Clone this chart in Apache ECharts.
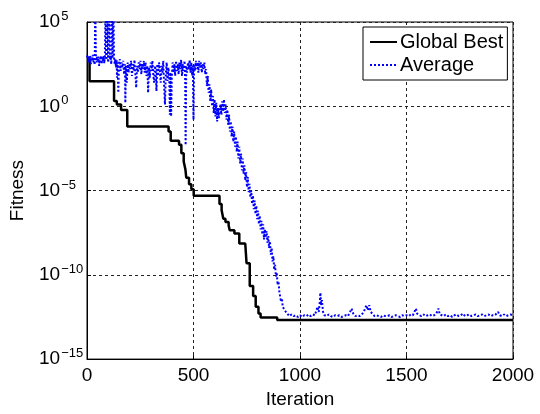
<!DOCTYPE html>
<html>
<head>
<meta charset="utf-8">
<script src="https://cdn.jsdelivr.net/npm/echarts@6/dist/echarts.min.js"></script>
<style>
  html, body { margin: 0; padding: 0; background: #fff; }
  #main { width: 540px; height: 414px; }
</style>
</head>
<body>
<div id="main"></div>
<script>
// fitness is stored as log10 exponent
var xTicks = [0, 500, 1000, 1500, 2000];
var yTicks = [-15, -10, -5, 0, 5];
var seriesNames = ['Global Best', 'Average'];

// [iteration, log10(fitness)]
var globalBest = [
  [0, 2.76], [12, 1.49], [127, 0.32], [140, 0.1], [160, -0.22], [189, -1.2],
  [383, -1.5], [393, -2.04], [432, -2.29], [443, -2.78], [454, -3.27], [462, -3.75],
  [466, -4.24], [479, -4.63], [490, -4.92], [501, -5.31], [622, -5.8], [632, -6.17],
  [640, -6.68], [650, -6.87], [665, -7.07], [670, -7.36], [692, -7.55], [715, -8.14],
  [743, -8.24], [749, -9.31], [764, -10.67], [780, -11.26], [792, -11.9], [805, -12.3],
  [815, -12.53], [893, -12.68], [2000, -12.68]
];

var average = [
  [0, 2.9], [3, 3.05], [6, 2.6], [9, 2.95], [12, 2.75], [15, 3.0], [18, 2.5], [21, 2.9],
  [24, 2.7], [27, 3.05], [30, 2.6], [33, 2.85], [36, 2.45], [39, 6], [42, 2.9], [45, 2.6],
  [48, 3.0], [51, 2.7], [54, 2.95], [57, 2.4], [60, 2.85], [63, 2.65], [66, 3.0], [69, 2.5],
  [72, 2.9], [75, 2.7], [78, 3.0], [81, 2.55], [84, 2.9], [87, 6], [90, 2.75], [93, 2.95],
  [96, 6], [99, 2.6], [102, 2.9], [105, 6], [108, 2.8], [111, 3.0], [114, 2.5], [117, 6],
  [120, 2.85], [124, 6], [127, 2.9], [130, 2.5], [133, 2.8], [136, 2.3], [139, 2.75],
  [141, 1.7], [144, 2.6], [147, 0.8], [150, 2.5],
  [154, 2.8], [158, 2.1], [162, 2.6], [166, 2.3], [170, 2.7], [174, 1.9], [178, 2.5],
  [180, 0.2], [183, 2.4], [187, 1.4], [191, 2.6], [195, 2.0], [199, 2.5], [203, 2.2],
  [207, 2.7], [211, 1.8], [215, 2.5], [219, 2.1], [223, 2.75], [227, 1.9], [231, 1.1],
  [235, 2.4], [239, 2.0], [243, 2.6], [247, 2.2], [251, 2.7], [255, 1.9], [259, 2.5],
  [263, 2.2], [267, 2.7], [271, 2.0], [275, 2.6], [279, 1.8], [283, 2.4], [287, 0.8],
  [291, 2.3], [295, 1.7], [299, 2.6], [303, 2.1], [307, 2.7], [311, 1.9], [315, 1.4],
  [319, 2.4], [323, 2.0], [326, 0.9], [330, 2.5], [334, 1.8], [338, 2.6], [342, 2.1],
  [346, 1.4], [350, 2.4], [354, 2.0], [358, 2.7], [362, 1.2], [366, 0.1], [370, 1.9],
  [374, 2.6], [378, 1.5], [382, 2.3], [386, 1.7], [389, -0.5], [392, 2.0], [395, -0.6],
  [398, 1.7], [402, 2.6], [406, 2.0], [410, 2.5], [414, 1.8], [418, 2.7], [422, 2.1],
  [426, 2.5], [430, 1.9], [434, 2.6], [438, 2.2], [442, 2.75], [446, 1.8], [450, 2.5],
  [454, 2.1], [458, 2.7], [461, 1.5], [463, -2.3], [466, 2.4], [470, 2.0], [474, 2.6],
  [478, 2.2], [482, 2.75], [486, 2.0], [490, 2.6], [494, 1.8], [497, 2.4], [500, -0.8],
  [503, 2.5], [507, 2.1], [511, 2.7], [515, 2.2], [519, 2.6], [523, 2.0], [527, 2.7],
  [531, 2.3], [535, 2.6], [539, 2.0], [543, 2.5], [547, 2.2], [551, 2.6], [555, 1.9],
  [559, 2.2], [563, 1.2], [567, 1.8], [571, 0.8], [575, 1.3], [579, 0.3], [583, 1.0],
  [587, 0.0], [591, 0.6], [595, -0.4], [599, 0.4], [603, -0.6], [607, 0.2], [611, -0.9],
  [615, -0.1], [619, -0.7], [623, -0.2], [627, 0.1], [631, -0.5], [635, 0.3], [639, -0.3],
  [643, 0.4], [647, -0.4], [651, 0.1], [655, -0.8], [659, -0.2], [663, -1.1], [667, -0.5],
  [671, -1.5], [675, -0.9], [679, -1.8], [683, -1.2], [687, -2.1], [691, -1.5], [695, -2.4],
  [699, -1.8], [703, -2.7], [707, -2.1], [711, -3.1], [715, -2.4], [719, -3.4], [723, -2.8],
  [727, -3.8], [731, -3.1], [735, -4.0], [739, -3.5], [743, -4.4], [747, -3.9], [751, -4.8],
  [755, -4.2], [759, -5.1], [763, -4.6], [767, -5.4], [771, -5.0], [775, -5.8], [779, -5.3],
  [783, -6.1], [787, -5.6], [791, -6.4], [795, -5.9], [799, -6.7], [803, -6.2], [807, -7.0],
  [811, -6.5], [815, -7.3], [819, -6.8], [823, -7.6], [827, -7.0], [831, -7.9], [835, -7.3],
  [839, -7.8], [843, -7.4], [847, -8.1], [851, -7.7], [855, -8.4], [859, -8.0], [863, -8.8],
  [867, -8.4], [871, -9.2], [875, -8.9], [879, -9.7], [883, -9.4], [887, -10.1], [891, -9.9],
  [895, -10.6], [899, -10.4], [903, -11.0], [907, -11.0], [911, -11.6], [915, -11.4],
  [919, -11.9], [923, -11.8], [928, -12.1], [934, -12.2], [940, -12.3],
  [950, -12.45], [960, -12.35], [970, -12.45], [980, -12.4], [990, -12.5], [1000, -12.4],
  [1010, -12.5], [1020, -12.4], [1030, -12.45], [1040, -12.35], [1050, -12.45], [1060, -12.35],
  [1070, -12.4], [1077, -12.3], [1082, -11.9], [1088, -12.2], [1093, -11.6], [1096, -11.06],
  [1099, -11.8], [1103, -11.5], [1108, -12.2], [1115, -12.4], [1125, -12.45], [1135, -12.35],
  [1145, -12.45], [1155, -12.5], [1165, -12.4], [1175, -12.45], [1185, -12.4], [1195, -12.5],
  [1205, -12.45], [1215, -12.4], [1225, -12.45], [1235, -12.2], [1242, -12.0], [1250, -12.3],
  [1260, -12.45], [1270, -12.4], [1280, -12.45], [1290, -12.35], [1300, -12.2], [1305, -12.0],
  [1312, -11.8], [1318, -12.1], [1325, -11.8], [1332, -12.2], [1340, -12.3], [1350, -12.45],
  [1360, -12.4], [1370, -12.45], [1380, -12.5], [1390, -12.4], [1400, -12.45], [1410, -12.45],
  [1420, -12.4], [1430, -12.5], [1440, -12.45], [1450, -12.4], [1460, -12.45], [1470, -12.5],
  [1480, -12.4], [1490, -12.45], [1500, -12.4], [1510, -12.45], [1520, -12.35], [1530, -12.4],
  [1538, -12.3], [1544, -12.0], [1550, -12.3], [1560, -12.4], [1570, -12.45], [1580, -12.35],
  [1590, -12.45], [1600, -12.4], [1610, -12.35], [1620, -12.45], [1630, -12.4], [1640, -12.3],
  [1646, -12.2], [1650, -12.0], [1656, -12.35], [1665, -12.4], [1675, -12.45], [1685, -12.35],
  [1695, -12.45], [1705, -12.4], [1715, -12.5], [1725, -12.4], [1735, -12.35], [1745, -12.45],
  [1755, -12.4], [1765, -12.3], [1775, -12.45], [1785, -12.4], [1795, -12.35], [1805, -12.45],
  [1815, -12.4], [1825, -12.35], [1835, -12.45], [1845, -12.4], [1855, -12.35], [1865, -12.45],
  [1875, -12.4], [1885, -12.35], [1895, -12.45], [1905, -12.4], [1915, -12.4], [1922, -12.3],
  [1930, -12.2], [1938, -12.4], [1948, -12.45], [1958, -12.35], [1968, -12.45], [1978, -12.4],
  [1988, -12.35], [2000, -12.4]
];

var fontFam = '"Liberation Sans", Arial, sans-serif';
var myChart = echarts.init(document.getElementById('main'));

myChart.setOption({
  animation: false,
  textStyle: { fontFamily: fontFam },
  grid: {
    left: 83, right: 27, top: 22, bottom: 50,
    show: true, borderColor: '#000', borderWidth: 1, backgroundColor: '#fff'
  },
  legend: {
    data: [
      { name: seriesNames[0], itemStyle: { opacity: 0 } },
      { name: seriesNames[1], itemStyle: { opacity: 0 } }
    ],
    orient: 'vertical',
    left: 363, top: 27,
    padding: [4, 4, 4, 6],
    itemGap: 1,
    itemWidth: 27,
    itemHeight: 14,
    backgroundColor: '#fff',
    borderColor: '#000',
    borderWidth: 1,
    borderRadius: 0,
    textStyle: { fontFamily: fontFam, fontSize: 20, color: '#000', lineHeight: 22, padding: [0, 0, 0, -2] }
  },
  xAxis: {
    type: 'value',
    min: xTicks[0], max: xTicks[xTicks.length - 1], interval: 500,
    name: 'Iteration', nameLocation: 'middle', nameGap: 27,
    nameTextStyle: { fontSize: 19, color: '#000', fontFamily: fontFam },
    axisLine: { onZero: false, lineStyle: { color: '#000', width: 1 } },
    axisTick: { show: true, inside: true, length: 4, lineStyle: { color: '#000' } },
    axisLabel: {
      fontSize: 19, color: '#000', margin: 7, fontFamily: fontFam,
      formatter: function (v) { return String(v); }
    },
    splitLine: { show: true, lineStyle: { color: '#222', type: [3, 3], width: 1 } }
  },
  yAxis: {
    type: 'value',
    min: yTicks[0], max: yTicks[yTicks.length - 1], interval: 5,
    name: 'Fitness', nameLocation: 'middle', nameGap: 60,
    nameTextStyle: { fontSize: 19, color: '#000', fontFamily: fontFam },
    axisLine: { onZero: false, lineStyle: { color: '#000', width: 1 } },
    axisTick: { show: true, inside: true, length: 4, lineStyle: { color: '#000' } },
    axisLabel: {
      align: 'left', margin: 48, color: '#000',
      formatter: function (v) {
        var e = v < 0 ? '\u2212' + Math.abs(v) : String(v);
        return '{b|10}{s|' + e + '}';
      },
      rich: {
        b: { fontSize: 19, fontFamily: fontFam, color: '#000', lineHeight: 24, verticalAlign: 'middle' },
        s: { fontSize: 13, fontFamily: fontFam, color: '#000', lineHeight: 24, verticalAlign: 'top', padding: [0, 0, 0, 1] }
      }
    },
    splitLine: { show: true, lineStyle: { color: '#222', type: [3, 3], width: 1 } }
  },
  series: [
    {
      name: seriesNames[0],
      type: 'line',
      step: 'end',
      data: globalBest,
      symbol: 'none',
      clip: true,
      lineStyle: { color: '#000', width: 2.5 },
      itemStyle: { color: '#000' }
    },
    {
      name: seriesNames[1],
      type: 'line',
      data: average,
      symbol: 'none',
      clip: true,
      lineStyle: { color: '#0000ff', width: 2, type: [2, 2] },
      itemStyle: { color: '#0000ff' }
    }
  ]
});
</script>
</body>
</html>
